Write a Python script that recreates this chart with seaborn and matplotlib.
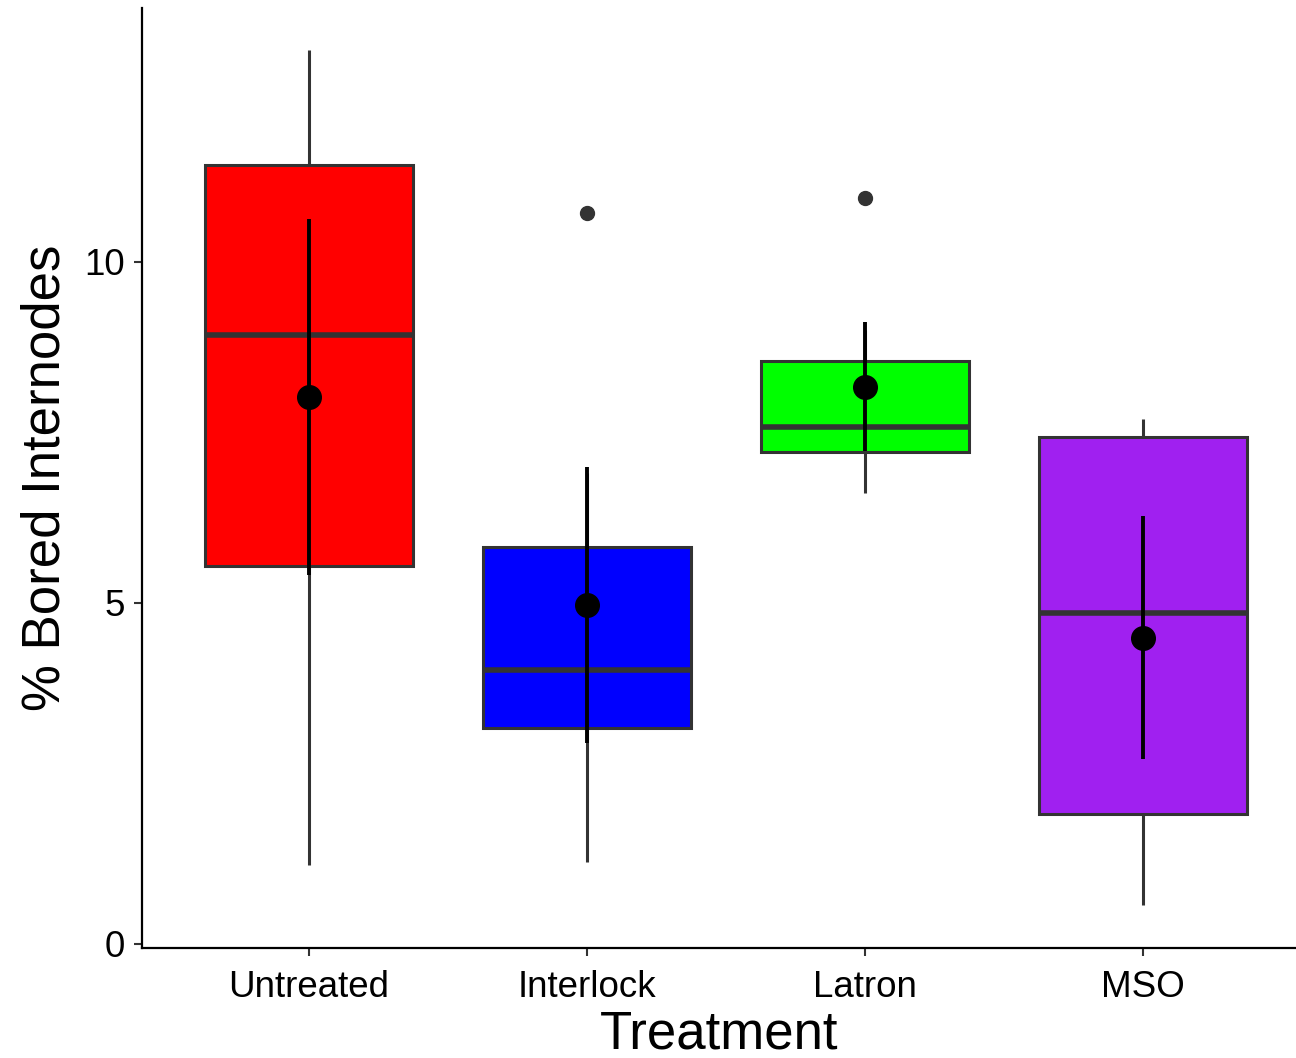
import pandas as pd
import matplotlib.pyplot as plt
import seaborn as sns

# 처리별 관측값 (상자그림용)
treatments = ['Untreated', 'Interlock', 'Latron', 'MSO']
untreated = [1.16, 3.2, 5.54, 7.0, 8.93, 9.9, 11.42, 11.92, 13.11]
interlock = [1.20, 2.6, 3.17, 3.6, 4.02, 5.0, 5.82, 6.9, 10.72]
latron = [6.61, 6.9, 7.21, 7.4, 7.58, 8.1, 8.55, 9.0, 10.94]
mso = [0.57, 1.2, 1.91, 3.4, 4.85, 6.2, 7.43, 7.55, 7.70]

# 평균과 오차막대
mean_vals = [8.02, 4.97, 8.17, 4.49]
err_vals = [2.61, 2.02, 0.94, 1.78]

box_colors = ['#FF0000', '#0000FF', '#00FF00', '#A020F0']

df = pd.DataFrame({
    'Treatment': ['Untreated'] * len(untreated) + ['Interlock'] * len(interlock)
                 + ['Latron'] * len(latron) + ['MSO'] * len(mso),
    'value': untreated + interlock + latron + mso,
})

sns.set_style('ticks')
plt.rcParams['font.family'] = ['Liberation Sans', 'DejaVu Sans']

fig = plt.figure(figsize=(12.96, 10.58), dpi=100)
ax = fig.add_axes([0.1096, 0.104, 0.8904, 0.8884])

sns.boxplot(data=df, x='Treatment', y='value', hue='Treatment', order=treatments,
            hue_order=treatments, palette=box_colors, saturation=1, width=0.75,
            linecolor='#333333', linewidth=2.2, showcaps=False, legend=False,
            flierprops=dict(marker='o', markersize=10, markerfacecolor='#333333',
                            markeredgecolor='#333333'),
            medianprops=dict(linewidth=4, color='#333333'),
            ax=ax)

# 평균 ± 오차
ax.errorbar(range(len(treatments)), mean_vals, yerr=err_vals, fmt='o', color='black',
            markersize=17, elinewidth=2.8, capsize=0, zorder=5)

ax.set_xlim(-0.6, 3.55)
ax.set_ylim(-0.06, 13.72)
ax.set_yticks([0, 5, 10])
ax.set_xlabel('Treatment', fontsize=38, labelpad=3, color='black')
ax.set_ylabel('% Bored Internodes', fontsize=38, labelpad=10, color='black')
ax.tick_params(axis='both', labelsize=26.5, length=6, width=1.5, color='#333333',
               labelcolor='black')
ax.tick_params(axis='x', pad=10)
ax.tick_params(axis='y', pad=6)
for s in ['left', 'bottom']:
    ax.spines[s].set_linewidth(1.6)
    ax.spines[s].set_color('black')
sns.despine(ax=ax)

fig.savefig('out.png', dpi=100)
